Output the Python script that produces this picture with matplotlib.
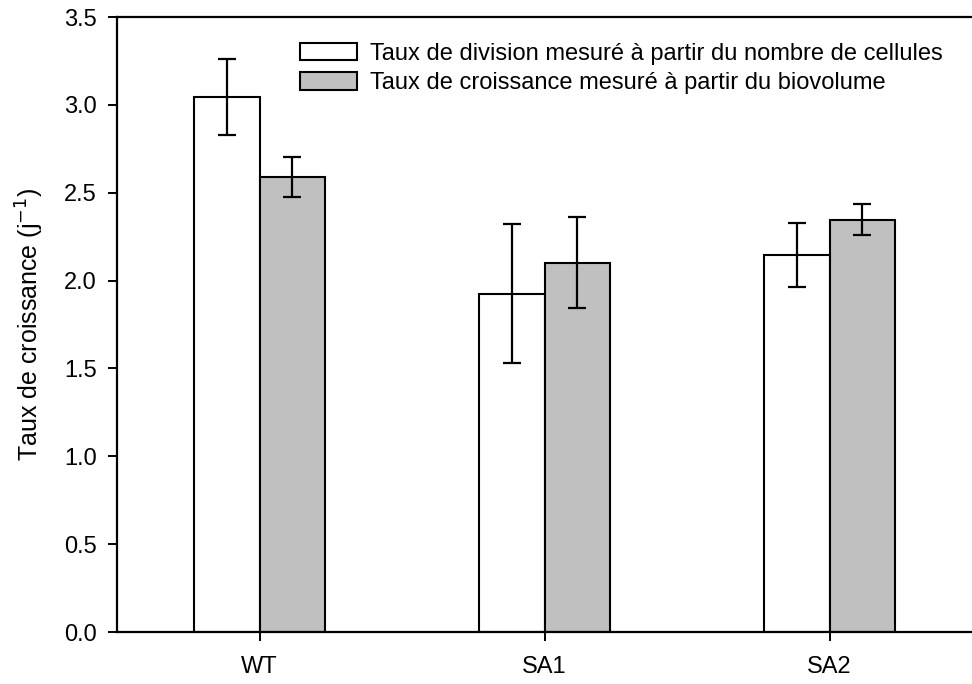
import numpy as np
import matplotlib.pyplot as plt

plt.rcParams['font.family'] = ['Liberation Sans', 'DejaVu Sans']

strains = ["WT", "SA1", "SA2"]
division_rate = [3.045, 1.925, 2.145]
division_err = [0.215, 0.395, 0.184]
growth_rate = [2.59, 2.102, 2.347]
growth_err = [0.115, 0.258, 0.089]
labels = [
    "Taux de division mesuré à partir du nombre de cellules",
    "Taux de croissance mesuré à partir du biovolume",
]

fig = plt.figure(figsize=(9.72, 6.84), dpi=100)
ax = fig.add_axes([0.1204, 0.076, 0.8796, 0.899])

x = np.arange(len(strains))
w = 0.23
err_kw = dict(elinewidth=1.6, capsize=6.5, capthick=1.6, ecolor="black")
ax.bar(x - w / 2, division_rate, w, yerr=division_err, color="white",
       edgecolor="black", linewidth=1.5, error_kw=err_kw, label=labels[0])
ax.bar(x + w / 2, growth_rate, w, yerr=growth_err, color="#c0c0c0",
       edgecolor="black", linewidth=1.5, error_kw=err_kw, label=labels[1])

ax.set_xlim(-0.5, 2.5)
ax.set_ylim(0, 3.5)
ax.set_yticks(np.arange(0, 3.51, 0.5))
ax.set_yticklabels([f"{v:.1f}" for v in np.arange(0, 3.51, 0.5)])
ax.set_xticks(x)
ax.set_xticklabels(strains)
ax.tick_params(axis="both", direction="out", length=6.5, width=1.4,
               labelsize=17, colors="black")
ax.tick_params(axis="x", pad=11)
ax.tick_params(axis="y", pad=8)
ax.spines["right"].set_visible(False)
for s in ["left", "top", "bottom"]:
    ax.spines[s].set_linewidth(1.6)

ax.set_ylabel("Taux de croissance (j$^{-1}$)", fontsize=18, labelpad=13)

ax.legend(loc="upper left", bbox_to_anchor=(0.189, 0.993), frameon=False,
          fontsize=17, handlelength=2.4, handleheight=0.76,
          handletextpad=0.55, labelspacing=0.32)

plt.savefig("out.png", dpi=100)
